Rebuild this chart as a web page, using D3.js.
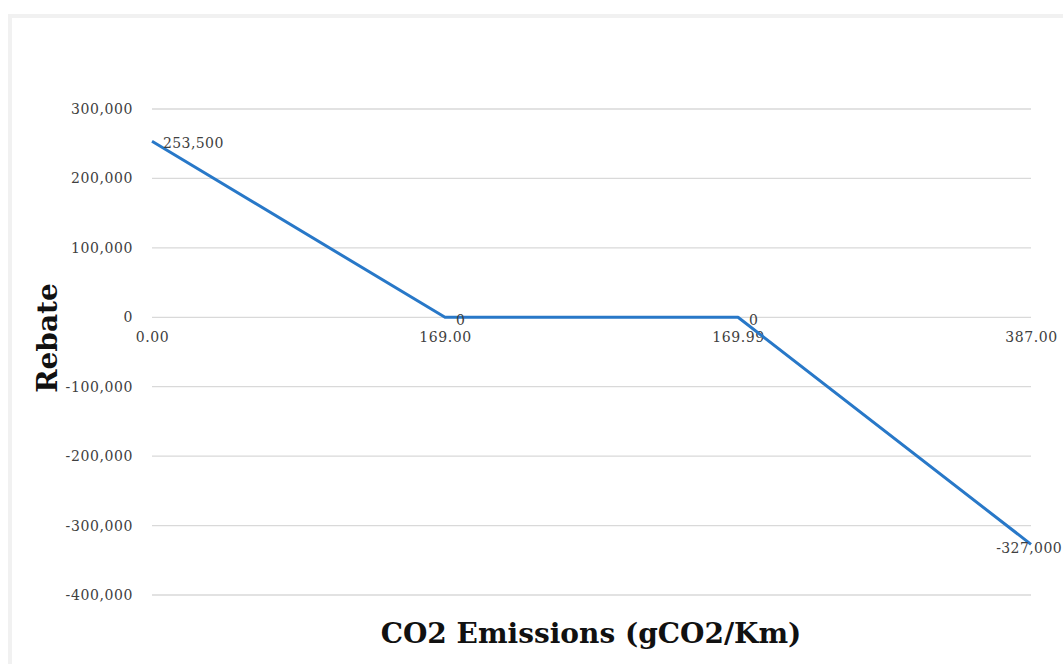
<!DOCTYPE html>
<html>
<head>
<meta charset="utf-8">
<script src="https://cdn.jsdelivr.net/npm/d3@7"></script>
<style>
  body { margin: 0; background: #fff; }
  svg { display: block; }
</style>
</head>
<body>
<svg id="chart" width="1063" height="664"></svg>
<script>
// chart data
const categories = ["0.00", "169.00", "169.99", "387.00"];
const rebate = [253500, 0, 0, -327000];
const yTicks = [300000, 200000, 100000, 0, -100000, -200000, -300000, -400000];

const svg = d3.select('#chart');
const width = 1063, height = 664;
const font = "'DejaVu Serif', 'Liberation Serif', serif";

// outer frame
svg.append("rect")
    .attr("x", 10).attr("y", 16)
    .attr("width", 1070).attr("height", 670)
    .attr("fill", "none")
    .attr("stroke", "#f1f1f1")
    .attr("stroke-width", 4);

// plot area
const margin = { top: 109, right: 32, bottom: 69, left: 152 };
const plotW = width - margin.left - margin.right;
const plotH = height - margin.top - margin.bottom;

const x = d3.scalePoint().domain(categories).range([0, plotW]).padding(0);
const y = d3.scaleLinear().domain([-400000, 300000]).range([plotH, 0]);

const g = svg.append("g").attr("transform", `translate(${margin.left},${margin.top})`);

// gridlines
g.append("g")
    .selectAll("line")
    .data(yTicks)
    .join("line")
    .attr("x1", 0).attr("x2", plotW)
    .attr("y1", d => y(d)).attr("y2", d => y(d))
    .attr("stroke", "#d9d9d9")
    .attr("stroke-width", 1.3);

// number format with a plain hyphen for negatives, like the original
const fmt = d => d3.format(",")(d).replace("\u2212", "-");

// y axis labels
const yAxis = g.append("g")
    .call(d3.axisLeft(y).tickValues(yTicks).tickSize(0).tickPadding(19).tickFormat(fmt));
yAxis.select(".domain").remove();
yAxis.selectAll("text")
    .attr("font-family", font)
    .attr("font-size", "14px")
    .attr("letter-spacing", "0.6px")
    .attr("fill", "#404040");

// x axis labels, sitting under the zero line
const xAxis = g.append("g")
    .attr("transform", `translate(0,${y(0)})`)
    .call(d3.axisBottom(x).tickSize(0).tickPadding(15));
xAxis.select(".domain").remove();
xAxis.selectAll("text")
    .attr("font-family", font)
    .attr("font-size", "14px")
    .attr("letter-spacing", "0.6px")
    .attr("fill", "#404040");

// line
const data = categories.map((c, i) => ({ c, v: rebate[i] }));
const line = d3.line().x(d => x(d.c)).y(d => y(d.v));

g.append("path")
    .datum(data)
    .attr("d", line)
    .attr("fill", "none")
    .attr("stroke", "#2878c8")
    .attr("stroke-width", 3)
    .attr("stroke-linejoin", "round");

// data labels to the right of each point; the last one is pulled back inside the page
const last = data.length - 1;
g.append("g")
    .selectAll("text")
    .data(data)
    .join("text")
    .attr("x", (d, i) => i === last ? plotW + margin.right - 1 : x(d.c) + 11)
    .attr("y", (d, i) => y(d.v) + (i === last ? 9 : (d.v === 0 ? 8 : 7)))
    .attr("text-anchor", (d, i) => i === last ? "end" : "start")
    .attr("font-family", font)
    .attr("font-size", "14px")
    .attr("letter-spacing", "0.4px")
    .attr("fill", "#404040")
    .text(d => fmt(d.v));

// axis titles
svg.append("text")
    .attr("transform", `translate(57,338) rotate(-90)`)
    .attr("text-anchor", "middle")
    .attr("font-family", font)
    .attr("font-weight", "bold")
    .attr("font-size", "28px")
    .attr("fill", "#111")
    .text("Rebate");

svg.append("text")
    .attr("x", 591)
    .attr("y", 643)
    .attr("text-anchor", "middle")
    .attr("font-family", font)
    .attr("font-weight", "bold")
    .attr("font-size", "28px")
    .attr("fill", "#111")
    .text("CO2 Emissions (gCO2/Km)");
</script>
</body>
</html>
